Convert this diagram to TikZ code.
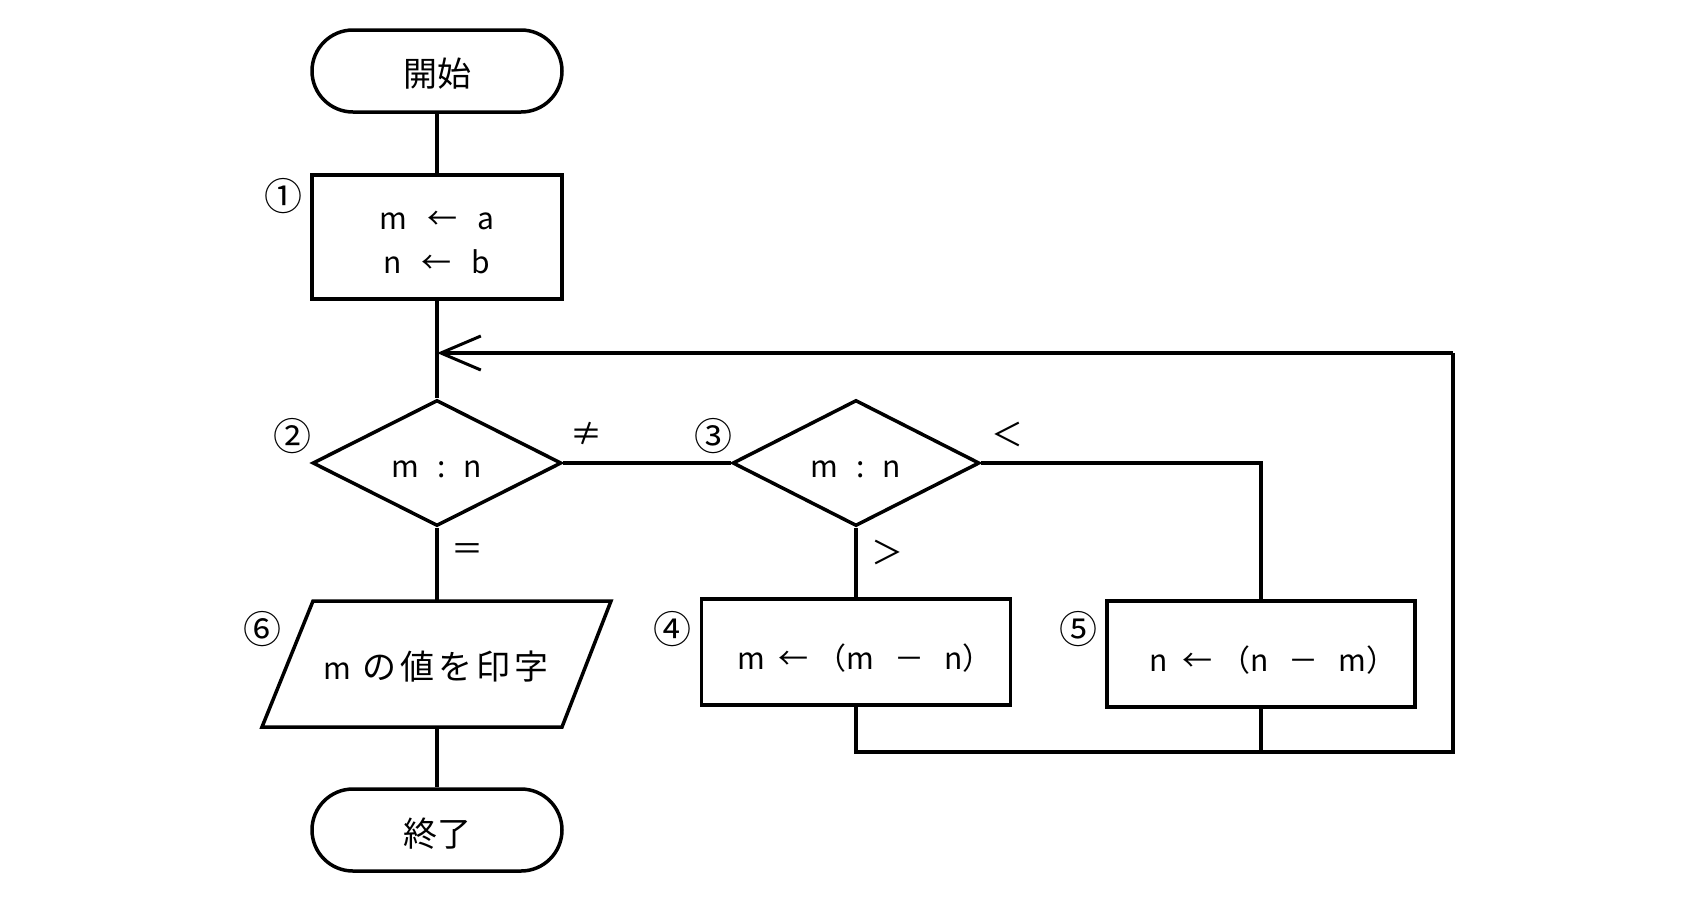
\documentclass[tikz,border=0pt]{standalone}
\usepackage{fontspec}
\setmainfont{Noto Sans CJK JP}
\usetikzlibrary{shapes.geometric,arrows.meta}
\begin{document}
\begin{tikzpicture}[x=1pt,y=-1pt,line width=3.5pt,
  txt/.style={font=\fontsize{30}{44}\selectfont},
  cjk/.style={font=\fontsize{34}{40}\selectfont},
  lbl/.style={font=\fontsize{32}{36}\selectfont,inner sep=0pt},
  num/.style={font=\fontsize{38}{40}\selectfont,inner sep=0pt},
  term/.style={draw,rectangle,rounded corners=41pt,minimum width=250pt,minimum height=82pt},
  proc/.style={draw,rectangle},
  dec/.style={draw,diamond,inner sep=0pt},
  flow/.style={line width=3.5pt},
  back/.style={line width=3.5pt,-{Straight Barb[length=40pt,width=34pt,line width=3pt]}}]
\useasboundingbox (0,0) rectangle (1693,906);
\fill[white] (0,0) rectangle (1693,906);
% shapes
\node[term] (start) at (437,71) {};
\node[cjk] (tstart) at (437,74) {開始};
\node[proc,minimum width=250pt,minimum height=124pt] (b1) at (437,237) {};
\node[txt,align=center] (t1) at (437,242)
  {m\hspace{20pt}←\hspace{20pt}a\\n\hspace{20pt}←\hspace{20pt}b};
\node[dec,minimum width=249pt,minimum height=126pt] (d2) at (437,463) {};
\node[txt] (t2) at (437,469) {m\hspace{18pt}:\hspace{18pt}n};
\node[dec,minimum width=247pt,minimum height=126pt] (d3) at (856,463) {};
\node[txt] (t3) at (856,469) {m\hspace{18pt}:\hspace{18pt}n};
\node[proc,minimum width=309pt,minimum height=106pt] (b4) at (856,652) {};
\node[txt] (t4) at (865,658) {m\hspace{14pt}←\hspace{8pt}（m\hspace{20pt}－\hspace{20pt}n）};
\node[proc,minimum width=308pt,minimum height=106pt] (b5) at (1261,654) {};
\node[txt] (t5) at (1273,660) {n\hspace{14pt}←\hspace{8pt}（n\hspace{20pt}－\hspace{20pt}m）};
% parallelogram
\draw[flow,line join=miter] (313,601) -- (611,601) -- (562,727) -- (262,727) -- cycle;
\node[cjk] (p6) at (436,667) {{\fontsize{30}{36}\selectfont m}\hspace{12pt}の\hspace{4pt}値\hspace{4pt}を\hspace{4pt}印\hspace{4pt}字};
\node[term] (end) at (437,830) {};
\node[cjk] (tend) at (437,834) {終了};
% coordinates for lines
\coordinate (join) at (437,353);
\coordinate (p6t) at (437,601);
\coordinate (p6b) at (437,727);
\coordinate (r3) at (1261,463);
\coordinate (bl) at (856,752);
\coordinate (bm) at (1261,752);
\coordinate (br) at (1453,752);
\coordinate (tr) at (1453,353);
% connectors
\draw[flow] (start) -- (b1);
\draw[flow] (b1) -- (d2);
\draw[flow] (d2.east) -- (d3.west);
\draw[flow] (d2.south) -- (p6t);
\draw[flow] (p6b) -- (end.north);
\draw[flow] (d3.south) -- (b4.north);
\draw[flow] (d3.east) -- (r3) -- (b5.north);
\draw[flow] (b4.south) -- (bl) -- (br) -- (tr);
\draw[flow] (b5.south) -- (bm);
\draw[back] (tr) -- (join);
% labels
\node[num] (n1) at (283,196) {①};
\node[num] (n2) at (292,436) {②};
\node[num] (n3) at (713,436) {③};
\node[num] (n4) at (672,629) {④};
\node[num] (n5) at (1078,629) {⑤};
\node[num] (n6) at (262,629) {⑥};
\node[lbl] (ne) at (586,434) {≠};
\node[lbl] (lt) at (1007,434) {＜};
\node[lbl] (gt) at (887,552) {＞};
\node[lbl] (eq) at (467,552) {＝};
\end{tikzpicture}
\end{document}
